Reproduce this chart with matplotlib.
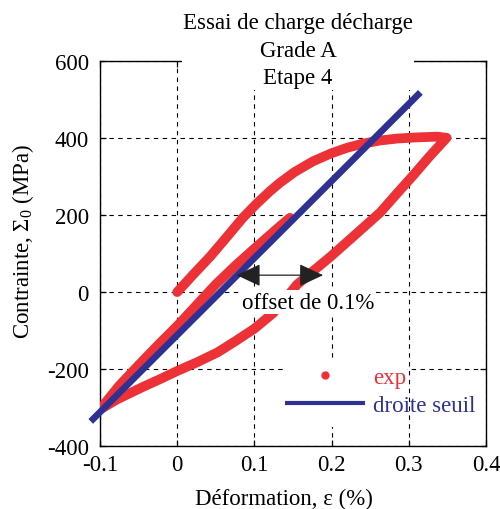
import matplotlib
matplotlib.use("Agg")
import matplotlib.pyplot as plt
from matplotlib.patches import Rectangle

# ==================================================
# DATA
# ==================================================

# experimental loop: loading, unloading, reloading
exp_eps = [
    0.0, 0.02, 0.043, 0.065, 0.085, 0.103, 0.12, 0.133, 0.152, 0.176,
    0.2, 0.22, 0.241, 0.263, 0.285, 0.31, 0.337, 0.349,
    0.327, 0.306, 0.285, 0.263, 0.23, 0.198, 0.175, 0.155, 0.14, 0.124,
    0.1, 0.075, 0.052, 0.025, 0.0, -0.022, -0.044, -0.078, -0.1,
    -0.075, -0.05, -0.025, 0.0, 0.025, 0.05, 0.075, 0.1, 0.125, 0.146,
]
exp_sig = [
    0, 44, 93, 145, 193, 230, 262, 284, 312, 340,
    361, 375, 386, 394, 399, 402, 404, 401,
    353, 304, 257, 207, 148, 91, 53, 19, -18, -55,
    -95, -128, -157, -183, -205, -226, -246, -279, -305,
    -243, -190, -138, -88, -34, 20, 68, 113, 157, 193,
]

# yield line ("droite seuil")
droite_eps = [-0.112, 0.315]
droite_sig = [-336, 519]

# offset arrow
offset_eps = [0.077, 0.189]
offset_sig = 44

x_ticks = [-0.1, 0, 0.1, 0.2, 0.3, 0.4]
x_labels = ["-0.1", "0", "0.1", "0.2", "0.3", "0.4"]
y_ticks = [-400, -200, 0, 200, 400, 600]

title_lines = ["Essai de charge décharge", "Grade A", "Etape 4"]

RED = "#ED3237"
BLUE = "#2E3192"

# ==================================================
# STYLE
# ==================================================

plt.rcParams["font.family"] = ["Liberation Serif", "DejaVu Serif"]
plt.rcParams["mathtext.fontset"] = "custom"
plt.rcParams["mathtext.rm"] = "Liberation Serif"
plt.rcParams["mathtext.it"] = "Liberation Serif:italic"
plt.rcParams["axes.unicode_minus"] = False
FS = 16.5

# ==================================================
# FIGURE
# ==================================================

fig = plt.figure(figsize=(5, 5.1), dpi=100)
ax = fig.add_axes([0.2, 0.1235, 0.772, 0.7545])

ax.plot(exp_eps, exp_sig, color=RED, lw=7,
        solid_capstyle="round", solid_joinstyle="round", zorder=3)
ax.plot([], [], "o", color=RED, ms=5, label="exp")
ax.plot(droite_eps, droite_sig, color=BLUE, lw=4.8,
        solid_capstyle="butt", zorder=4, clip_on=False, label="droite seuil")

ax.set_xlim(-0.1, 0.4)
ax.set_ylim(-400, 600)
ax.set_xticks(x_ticks)
ax.set_xticklabels(x_labels)
ax.set_yticks(y_ticks)

ax.set_axisbelow(True)
ax.grid(True, color="black", lw=0.8, linestyle=(0, (4, 4)))
ax.tick_params(direction="in", length=4.5, width=0.9, top=True, right=True,
               labelsize=FS)
ax.tick_params(axis="x", pad=6)
ax.tick_params(axis="y", pad=8)
for sp in ax.spines.values():
    sp.set_linewidth(1.0)

ax.set_xlabel("Déformation, ε (%)", fontsize=FS)
ax.xaxis.set_label_coords(0.477, -0.108)
ax.set_ylabel("Contrainte, Σ$_0$ (MPa)", fontsize=FS)
ax.yaxis.set_label_coords(-0.165, 0.535)

# title block drawn over the axes box
ax.text(0.513, 0.930, "\n".join(title_lines), transform=ax.transAxes,
        ha="center", va="bottom", fontsize=FS, zorder=10, linespacing=1.4,
        bbox=dict(facecolor="white", edgecolor="none", pad=1))

# offset arrow and label
ax.annotate("", xy=(offset_eps[0], offset_sig), xytext=(offset_eps[1], offset_sig),
            arrowprops=dict(arrowstyle="<|-|>,head_length=0.75,head_width=0.35",
                            color="#222222", lw=0.9, shrinkA=0, shrinkB=0,
                            mutation_scale=20),
            zorder=6)
ax.text(0.170, -26, "offset de 0.1%", ha="center", va="center",
        fontsize=FS, zorder=8,
        bbox=dict(facecolor="white", edgecolor="none", pad=1))

# legend: white patch behind, frameless legend on top
ax.add_patch(Rectangle((0.474, 0.049), 0.322, 0.172, transform=ax.transAxes,
                       facecolor="white", edgecolor="none", zorder=1))
leg = ax.legend(loc="upper left", bbox_to_anchor=(0.479, 0.205),
                frameon=False, fontsize=FS, handlelength=3.5,
                handletextpad=0.35, labelspacing=0.3,
                borderpad=0, borderaxespad=0)
leg.legend_handles[1].set_linewidth(3)
for txt, col in zip(leg.get_texts(), [RED, BLUE]):
    txt.set_color(col)

fig.savefig("out.png", dpi=100)
